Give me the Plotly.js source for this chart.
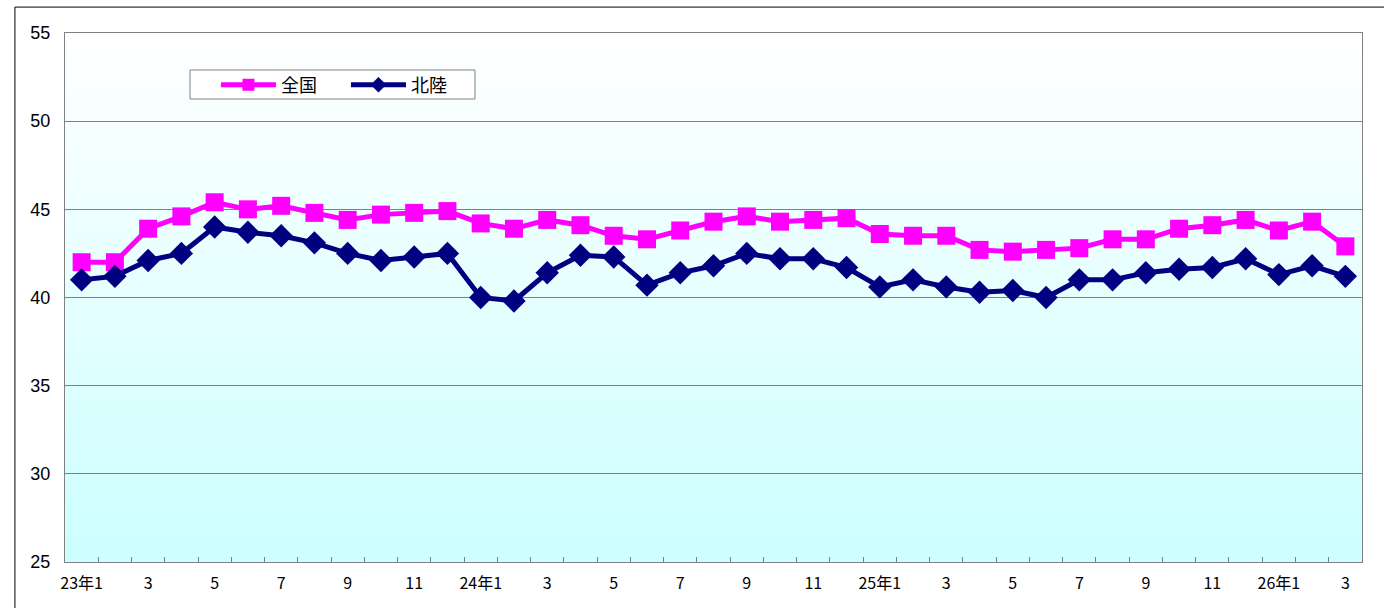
<!DOCTYPE html>
<html>
<head>
<meta charset="utf-8">
<script src="https://cdn.plot.ly/plotly-3.0.1.min.js"></script>
<style>
html,body{margin:0;padding:0;background:#fff;}
#chart{width:1384px;height:608px;}
</style>
</head>
<body>
<div id="chart"></div>
<script>
// Categories (year/month)
const categories = [
  "23/1","23/2","23/3","23/4","23/5","23/6","23/7","23/8","23/9","23/10","23/11","23/12",
  "24/1","24/2","24/3","24/4","24/5","24/6","24/7","24/8","24/9","24/10","24/11","24/12",
  "25/1","25/2","25/3","25/4","25/5","25/6","25/7","25/8","25/9","25/10","25/11","25/12",
  "26/1","26/2","26/3"
];
const tickLabels = [
  "23年1","","3","","5","","7","","9","","11","",
  "24年1","","3","","5","","7","","9","","11","",
  "25年1","","3","","5","","7","","9","","11","",
  "26年1","","3"
];
const zenkoku = [42.0,42.0,43.9,44.6,45.4,45.0,45.2,44.8,44.4,44.7,44.8,44.9,
  44.2,43.9,44.4,44.1,43.5,43.3,43.8,44.3,44.6,44.3,44.4,44.5,
  43.6,43.5,43.5,42.7,42.6,42.7,42.8,43.3,43.3,43.9,44.1,44.4,
  43.8,44.3,42.9];
const hokuriku = [41.0,41.2,42.1,42.5,44.0,43.7,43.5,43.1,42.5,42.1,42.3,42.5,
  40.0,39.8,41.4,42.4,42.3,40.7,41.4,41.8,42.5,42.2,42.2,41.7,
  40.6,41.0,40.6,40.3,40.4,40.0,41.0,41.0,41.4,41.6,41.7,42.2,
  41.3,41.8,41.2];
const seriesNames = ["全国","北陸"];
const yTicks = [25,30,35,40,45,50,55];

// background gradient (white at top -> light cyan at bottom)
const shapes = [];
const N = 80;
for (let i = 0; i < N; i++) {
  const t = i / (N - 1); // 0 bottom, 1 top
  const r = Math.round(0xCC + (0xFF - 0xCC) * t);
  shapes.push({type:'rect', xref:'paper', yref:'paper', x0:0, x1:1,
    y0:i/N, y1:(i+1)/N + 0.001, line:{width:0}, fillcolor:`rgb(${r},255,255)`, layer:'below'});
}
// legend box
shapes.push({type:'rect', xref:'paper', yref:'paper', x0:0.0964, x1:0.3161, y0:0.8752, y1:0.9301,
  fillcolor:'#fff', line:{color:'#808080', width:1}, layer:'above'});
// outer chart frame (left and top)
shapes.push({type:'path', xref:'paper', yref:'paper',
  path:'M -0.0386,-0.2 L -0.0386,1.049 L 1.1,1.049',
  line:{color:'#000', width:1}, layer:'above'});

const traces = [
  {x:categories, y:zenkoku, name:seriesNames[0], type:'scatter', mode:'lines+markers',
   line:{color:'#FF00FF', width:5}, marker:{symbol:'square', size:18, color:'#FF00FF'}},
  {x:categories, y:hokuriku, name:seriesNames[1], type:'scatter', mode:'lines+markers',
   line:{color:'#000080', width:5}, marker:{symbol:'diamond', size:18, color:'#000080'}}
];

const layout = {
  width:1384, height:608,
  margin:{l:65, r:22, t:33, b:46},
  paper_bgcolor:'#fff', plot_bgcolor:'rgba(0,0,0,0)',
  showlegend:true,
  legend:{orientation:'h', x:0.1164, y:0.9017, xanchor:'left', yanchor:'middle',
    bgcolor:'rgba(0,0,0,0)', borderwidth:0, itemsizing:'constant',
    font:{family:'"Noto Sans CJK JP", sans-serif', size:18, color:'#000'},
    entrywidth:60, itemwidth:55, tracegroupgap:0},
  xaxis:{type:'category', range:[-0.5,38.5], tickmode:'array', tickvals:categories, ticktext:tickLabels,
    tickson:'boundaries', ticks:'inside', ticklen:5, tickcolor:'#808080',
    showgrid:false, showline:true, linecolor:'#808080', linewidth:1, mirror:true,
    tickfont:{family:'"Liberation Sans Narrow", "Noto Sans CJK JP", sans-serif', size:16, color:'#000'},
    ticklabelstandoff:7, tickangle:0, fixedrange:true},
  yaxis:{range:[25,55], tickvals:yTicks, ticks:'', showgrid:true, gridcolor:'#808080', gridwidth:1,
    showline:true, linecolor:'#808080', linewidth:1, mirror:true, zeroline:false,
    tickfont:{family:'"Liberation Sans", Arial, sans-serif', size:18, color:'#000'},
    ticklabelstandoff:10, fixedrange:true},
  shapes:shapes
};
Plotly.newPlot('chart', traces, layout, {displayModeBar:false, staticPlot:true});
</script>
</body>
</html>
